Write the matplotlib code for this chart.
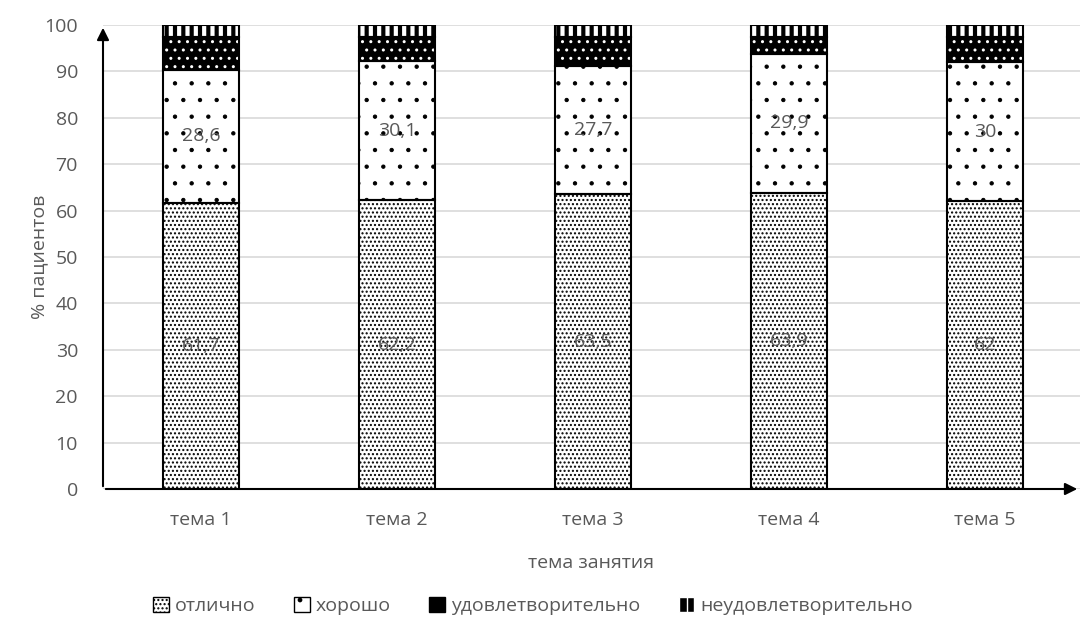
import numpy as np
import matplotlib
matplotlib.use('Agg')
import matplotlib.pyplot as plt
from matplotlib.patches import Patch

plt.rcParams['font.family'] = ['Open Sans', 'DejaVu Sans']

# data
topics = ['тема 1', 'тема 2', 'тема 3', 'тема 4', 'тема 5']
excellent = [61.7, 62.2, 63.5, 63.9, 62]
good = [28.6, 30.1, 27.7, 29.9, 30]
satisf = [7.2, 5.2, 6.3, 3.7, 5.5]
unsatisf = [2.5, 2.5, 2.5, 2.5, 2.5]
series_names = ['отлично', 'хорошо', 'удовлетворительно', 'неудовлетворительно']

grey = '#595959'
fs = 14
fig = plt.figure(figsize=(10.83, 6.42), dpi=100)
ax = fig.add_axes([103 / 1083, 1 - 489 / 642, (1080 - 103) / 1083, (489 - 25) / 642])

x = np.arange(len(topics))
w = 0.39

b1 = np.array(excellent)
b2 = b1 + np.array(good)
b3 = b2 + np.array(satisf)


def set_hlw(patches, hlw):
    for p in patches:
        if hasattr(p, 'set_hatch_linewidth'):
            p.set_hatch_linewidth(hlw)


def hbar(vals, bottom, face, hcol, hatch, hlw):
    with plt.rc_context({'hatch.linewidth': hlw}):
        bars = ax.bar(x, vals, w, bottom=bottom, color=face, edgecolor=hcol, hatch=hatch,
                      linewidth=0, zorder=3)
    set_hlw(bars, hlw)
    return bars


hbar(excellent, 0, 'white', 'black', '....', 1.0)   # отлично
hbar(good, b1, 'white', 'black', '.', 0.7)            # хорошо
hbar(satisf, b2, 'black', 'white', '..', 1.0)         # удовлетворительно
hbar(unsatisf, b3, 'black', 'white', '||', 3.0)       # неудовлетворительно

# outlines
for vals, bot in [(excellent, 0), (good, b1), (satisf, b2), (unsatisf, b3)]:
    ax.bar(x, vals, w, bottom=bot, fill=False, edgecolor='black', linewidth=1.5, zorder=4)

# labels
for i in range(len(topics)):
    ax.text(x[i], excellent[i] / 2, str(excellent[i]).replace('.', ','), ha='center', va='center',
            fontsize=fs, color=grey, zorder=5)
    ax.text(x[i], b1[i] + good[i] / 2, str(good[i]).replace('.', ','), ha='center', va='center',
            fontsize=fs, color=grey, zorder=5)

ax.set_ylim(0, 100)
ax.set_xlim(-0.5, 4.485)
ax.set_yticks(range(0, 101, 10))
ax.set_xticks(x)
ax.set_xticklabels(topics)
ax.tick_params(axis='both', length=0, labelsize=fs, labelcolor=grey)
ax.tick_params(axis='y', pad=18)
ax.tick_params(axis='x', pad=16)
ax.grid(axis='y', color='#d9d9d9', linewidth=1.2, zorder=0)
for s in ax.spines.values():
    s.set_visible(False)

# arrow axes
ax.annotate('', xy=(0, 1.0), xytext=(0, 0), xycoords='axes fraction',
            arrowprops=dict(arrowstyle='-|>', color='black', lw=1.5, mutation_scale=18), zorder=6)
ax.annotate('', xy=(1.0, 0), xytext=(0, 0), xycoords='axes fraction',
            arrowprops=dict(arrowstyle='-|>', color='black', lw=1.5, mutation_scale=18), zorder=6)

ax.set_ylabel('% пациентов', fontsize=fs, color=grey, labelpad=-3)
ax.set_xlabel('тема занятия', fontsize=fs, color=grey, labelpad=18)

with plt.rc_context({'hatch.linewidth': 1.0}):
    handles = [
        Patch(facecolor='white', edgecolor='black', hatch='....', linewidth=1),
        Patch(facecolor='white', edgecolor='black', hatch='.', linewidth=1),
        Patch(facecolor='black', edgecolor='black', hatch='..', linewidth=1),
    ]
with plt.rc_context({'hatch.linewidth': 2.5}):
    handles.append(Patch(facecolor='black', edgecolor='white', hatch='||', linewidth=1))
set_hlw(handles[:3], 1.0)
set_hlw(handles[3:], 2.5)

leg = fig.legend(handles, series_names, loc='center', bbox_to_anchor=(533 / 1083, 1 - 606 / 642),
                 ncol=4, frameon=False, fontsize=fs, handlelength=0.8, handleheight=0.8,
                 handletextpad=0.3, columnspacing=2.0)
for t in leg.get_texts():
    t.set_color(grey)

fig.savefig('out.png', dpi=100)
